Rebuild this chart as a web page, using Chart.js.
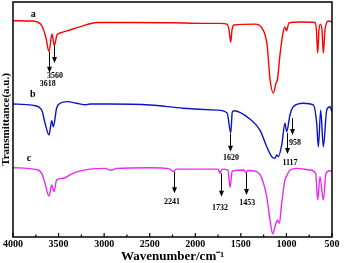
<!DOCTYPE html>
<html lang="en">
<head>
<meta charset="UTF-8">
<title>FTIR</title>
<script src="https://cdn.jsdelivr.net/npm/chart.js@4.4.1/dist/chart.umd.min.js"></script>
<style>
    html, body { margin: 0; padding: 0; background: #fff; }
    #wrap { width: 345px; height: 263px; }
</style>
</head>
<body>
<div id="wrap"><canvas id="ftir"></canvas></div>
<script>
// spectrum a (red)
const waveA = [4000, 3813, 3737, 3682, 3638, 3605, 3572, 3547, 3517, 3484, 3375, 3265, 3078, 2716, 2222, 1948, 1729, 1652, 1630, 1611, 1597, 1575, 1345, 1268, 1212, 1179, 1144, 1114, 1098, 1071, 1038, 1016, 1000, 972, 852, 687, 671, 657, 643, 626, 610, 595, 577, 555, 540, 500];
const transA = [92.0, 91.9, 91.5, 89.8, 84.7, 78.9, 86.4, 81.4, 86.0, 86.8, 88.1, 89.4, 91.3, 91.3, 91.2, 90.9, 90.9, 90.6, 88.1, 82.9, 88.1, 90.2, 90.6, 88.9, 81.7, 66.8, 61.3, 65.5, 67.2, 77.4, 86.8, 89.4, 87.7, 91.1, 91.5, 91.3, 88.1, 78.3, 88.1, 90.6, 88.1, 78.3, 88.1, 91.5, 91.9, 91.5];

// spectrum b (blue)
const waveB = [4000, 3781, 3685, 3649, 3605, 3575, 3558, 3521, 3484, 3404, 3301, 3199, 3155, 2936, 2497, 2131, 1765, 1651, 1611, 1594, 1575, 1398, 1290, 1216, 1162, 1125, 1107, 1089, 1052, 1016, 997, 961, 925, 815, 705, 668, 650, 624, 595, 558, 522, 500];
const transB = [56.6, 56.0, 54.0, 48.5, 43.4, 49.5, 46.9, 54.9, 56.9, 57.6, 56.9, 56.3, 56.6, 56.6, 56.2, 54.8, 54.0, 52.8, 44.3, 53.2, 53.7, 50.1, 45.5, 38.4, 34.2, 33.5, 34.9, 34.2, 39.1, 48.4, 44.8, 51.9, 55.4, 56.9, 56.2, 48.4, 38.4, 54.0, 38.4, 54.0, 55.4, 53.3];

// spectrum c (magenta)
const waveC = [4000, 3759, 3685, 3649, 3605, 3575, 3550, 3521, 3448, 3375, 3301, 3155, 2991, 2925, 2862, 2497, 2277, 2241, 2212, 1747, 1729, 1707, 1641, 1619, 1597, 1583, 1466, 1444, 1422, 1326, 1271, 1216, 1180, 1151, 1125, 1100, 1078, 1052, 1016, 997, 961, 887, 741, 679, 657, 632, 595, 566, 522, 500];
const transC = [29.5, 28.8, 27.1, 22.9, 17.4, 22.1, 19.3, 24.3, 25.0, 26.4, 27.7, 28.9, 29.2, 28.4, 29.2, 29.5, 28.9, 27.8, 28.9, 28.9, 27.1, 28.9, 28.5, 21.1, 27.7, 28.2, 28.5, 27.4, 28.3, 27.8, 25.0, 17.1, 7.2, 1.3, 4.4, 7.2, 5.8, 14.3, 24.3, 26.0, 28.5, 29.2, 28.5, 27.1, 15.7, 25.7, 15.7, 27.1, 28.2, 27.8];

// peak arrows: label, arrow position, arrow top / tip, label position
const peakLabels = ['3618', '3560', '1620', '1117', '958', '2241', '1732', '1453'];
const peakWave   = [3605, 3547, 1619, 997, 942, 2233, 1721, 1444];
const peakFrom   = [78.7, 81.3, 44.0, 44.3, 50.6, 27.7, 27.0, 27.2];
const peakTip    = [69.9, 74.0, 36.3, 35.3, 43.4, 18.6, 17.1, 17.9];
const peakTextX  = [3619, 3539, 1608, 961, 906, 2255, 1729, 1429];
const peakTextY  = [65.1, 68.5, 33.5, 31.4, 40.0, 15.0, 12.2, 14.6];

// curve names
const curveNames = ['a', 'b', 'c'];
const curveNameX = [3777, 3784, 3824];
const curveNameY = [94.9, 60.7, 33.5];

const serif = "'Liberation Serif', 'Times New Roman', serif";

function pts(w, t) {
    return w.map((v, i) => ({ x: v, y: t[i] }));
}

const framePlugin = {
    id: 'frame',
    afterDraw(chart) {
        const ctx = chart.ctx;
        const a = chart.chartArea;
        const xs = chart.scales.x;
        const ys = chart.scales.y;
        ctx.save();
        ctx.strokeStyle = '#000';
        ctx.lineWidth = 1.5;
        ctx.strokeRect(a.left, a.top, a.right - a.left, a.bottom - a.top);

        // inward ticks on the bottom axis
        ctx.lineWidth = 1.2;
        for (let v = 500; v <= 4000; v += 250) {
            let px = xs.getPixelForValue(v);
            let len = (v % 500 === 0) ? 4 : 2.5;
            ctx.beginPath();
            ctx.moveTo(px, a.bottom);
            ctx.lineTo(px, a.bottom - len);
            ctx.stroke();
        }

        // arrows
        ctx.lineWidth = 1;
        ctx.fillStyle = '#000';
        peakLabels.forEach((lab, i) => {
            let px = Math.round(xs.getPixelForValue(peakWave[i])) + 0.5;
            let y0 = ys.getPixelForValue(peakFrom[i]);
            let y1 = ys.getPixelForValue(peakTip[i]);
            ctx.beginPath();
            ctx.moveTo(px, y0);
            ctx.lineTo(px, y1 - 5);
            ctx.stroke();
            ctx.beginPath();
            ctx.moveTo(px - 2.5, y1 - 6);
            ctx.lineTo(px + 2.5, y1 - 6);
            ctx.lineTo(px, y1);
            ctx.closePath();
            ctx.fill();

            ctx.font = 'bold 8px ' + serif;
            ctx.textAlign = 'center';
            ctx.textBaseline = 'middle';
            ctx.fillText(lab, xs.getPixelForValue(peakTextX[i]), ys.getPixelForValue(peakTextY[i]));
        });

        ctx.font = 'bold 10px ' + serif;
        curveNames.forEach((n, i) => {
            ctx.fillText(n, xs.getPixelForValue(curveNameX[i]), ys.getPixelForValue(curveNameY[i]));
        });
        ctx.restore();
    }
};

const lineStyle = {
    borderWidth: 1.4,
    pointRadius: 0,
    cubicInterpolationMode: 'monotone',
    fill: false,
};

new Chart(document.getElementById('ftir'), {
    type: 'line',
    data: {
        datasets: [
            Object.assign({ label: 'a', data: pts(waveA, transA), borderColor: 'rgb(255,0,0)' }, lineStyle),
            Object.assign({ label: 'b', data: pts(waveB, transB), borderColor: 'rgb(10,20,200)' }, lineStyle),
            Object.assign({ label: 'c', data: pts(waveC, transC), borderColor: 'rgb(235,40,245)' }, lineStyle),
        ]
    },
    options: {
        responsive: true,
        maintainAspectRatio: false,
        animation: false,
        layout: {
            padding: { top: 2, right: 13, left: 0, bottom: 0 },
        },
        plugins: {
            legend: { display: false },
            tooltip: { enabled: false },
        },
        scales: {
            x: {
                type: 'linear',
                reverse: true,
                min: 500,
                max: 4000,
                border: { display: false },
                grid: { display: false, drawTicks: false },
                afterFit: (scale) => { scale.height = 26; },
                ticks: {
                    stepSize: 500,
                    padding: 2,
                    maxRotation: 0,
                    color: '#000',
                    font: { family: serif, size: 10, weight: 'bold', lineHeight: 1 },
                    callback: (v) => String(v),
                },
                title: {
                    display: true,
                    text: 'Wavenumber/cm\u207B\u00B9',
                    color: '#000',
                    padding: { top: 0, bottom: 0 },
                    font: { family: serif, size: 13, weight: 'bold', lineHeight: 1 },
                },
            },
            y: {
                min: 0,
                max: 100,
                border: { display: false },
                grid: { display: false, drawTicks: false },
                afterFit: (scale) => { scale.width = 13; },
                ticks: { display: false },
                title: {
                    display: true,
                    text: 'Transmittance(a.u.)',
                    color: '#000',
                    padding: { top: 1, bottom: 1 },
                    font: { family: serif, size: 11, weight: 'bold', lineHeight: 1 },
                },
            },
        },
    },
    plugins: [framePlugin],
});
</script>
</body>
</html>
